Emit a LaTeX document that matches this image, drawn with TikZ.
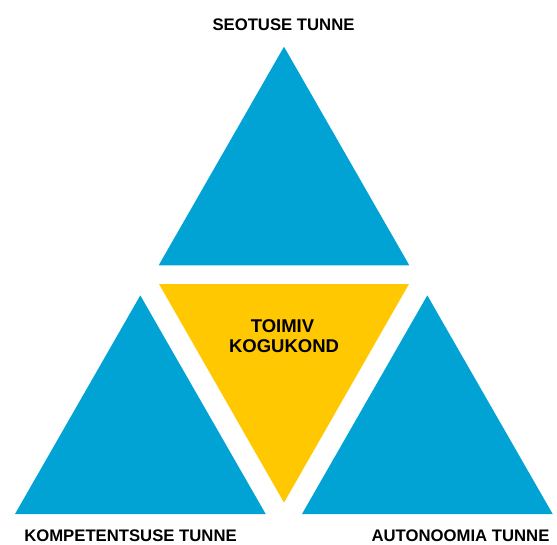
\documentclass[tikz,border=0pt]{standalone}
\usepackage{fontspec}
\setmainfont{Liberation Sans}
\definecolor{triblue}{RGB}{0,163,212}
\definecolor{triyellow}{RGB}{255,200,0}
\tikzset{
  bluetri/.style={fill=triblue, draw=none},
  yellowtri/.style={fill=triyellow, draw=none},
  needlabel/.style={font=\fontsize{16.7}{18}\selectfont\bfseries, inner sep=0pt, align=center},
  corelabel/.style={font=\fontsize{18.5}{20}\selectfont\bfseries, inner sep=0pt, align=center}
}
\begin{document}
\begin{tikzpicture}[x=1pt,y=-1pt]
\useasboundingbox (0,0) rectangle (557,544);

% Top triangle
\coordinate (T1) at (284,46.7);    % apex
\coordinate (T2) at (158.7,265.3); % base left
\coordinate (T3) at (409.3,265.3); % base right

% Middle (inverted) triangle
\coordinate (M1) at (159,284);     % top left
\coordinate (M2) at (409,284);     % top right
\coordinate (M3) at (284,502.6);   % bottom apex

% Left triangle
\coordinate (L1) at (140.3,295.4);
\coordinate (L2) at (15,514);
\coordinate (L3) at (265.7,514);

% Right triangle
\coordinate (R1) at (427.3,295.4);
\coordinate (R2) at (302,514);
\coordinate (R3) at (552.7,514);

% Fill the triangles
\fill[bluetri] (T1) -- (T2) -- (T3) -- cycle;
\fill[yellowtri] (M1) -- (M2) -- (M3) -- cycle;
\fill[bluetri] (L1) -- (L2) -- (L3) -- cycle;
\fill[bluetri] (R1) -- (R2) -- (R3) -- cycle;

% Labels
\node[needlabel] (seotus) at (283.5,25) {SEOTUSE TUNNE};
\node[needlabel] (kompetents) at (130.5,536) {KOMPETENTSUSE TUNNE};
\node[needlabel] (autonoomia) at (460.5,536) {AUTONOOMIA TUNNE};
\node[corelabel] (toimiv1) at (282.5,325.7) {TOIMIV};
\node[corelabel] (toimiv2) at (284,346.2) {KOGUKOND};

\end{tikzpicture}
\end{document}
